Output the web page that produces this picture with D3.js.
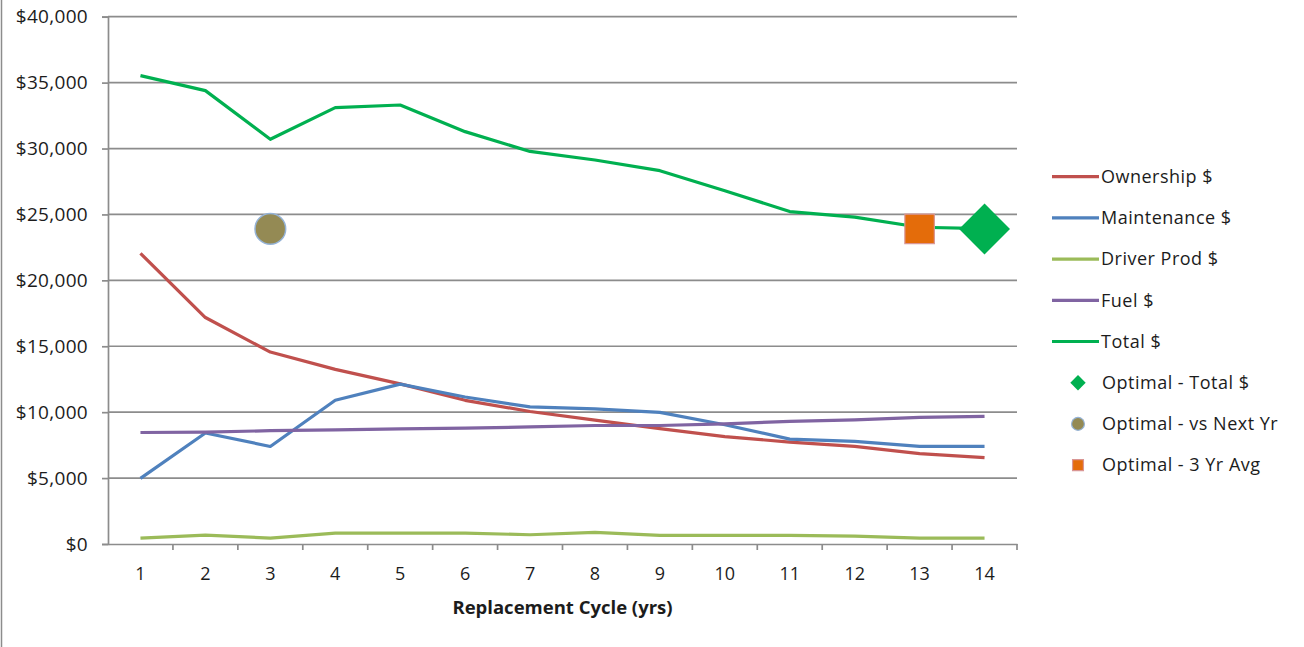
<!DOCTYPE html>
<html>
<head>
<meta charset="utf-8">
<script src="https://cdn.jsdelivr.net/npm/d3@7"></script>
<style>
  body { margin: 0; background: #fff; }
  svg { display: block; }
  text { font-family: "Open Sans", "Liberation Sans", sans-serif; fill: #1c1c1c; }
</style>
</head>
<body>
<svg id="chart" width="1304" height="647"></svg>
<script>
// Replacement cycle (years) along the x axis
const cycles = [1, 2, 3, 4, 5, 6, 7, 8, 9, 10, 11, 12, 13, 14];

// Annual cost components per replacement cycle
const ownership   = [22050, 17180, 14560, 13250, 12150, 10900, 10050, 9400, 8750, 8150, 7730, 7400, 6850, 6550];
const maintenance = [4980, 8420, 7400, 10900, 12130, 11150, 10400, 10250, 9980, 9050, 7960, 7780, 7400, 7400];
const driverProd  = [450, 680, 450, 830, 830, 830, 700, 880, 650, 650, 650, 600, 450, 450];
const fuel        = [8460, 8480, 8600, 8650, 8730, 8790, 8880, 8990, 8990, 9120, 9300, 9420, 9600, 9680];
const total       = [35530, 34390, 30700, 33100, 33300, 31280, 29780, 29130, 28320, 26800, 25220, 24790, 24030, 23930];

// Optimal points: [cycle, value]
const optimalTotal    = [[14, 23900]];
const optimalNextYear = [[3, 23900]];
const optimal3YrAvg   = [[13, 23900]];

// Y axis ticks
const yTicks = [0, 5000, 10000, 15000, 20000, 25000, 30000, 35000, 40000];

const lineSeries = [
  { name: "Ownership $",   values: ownership,   color: "#C0504D" },
  { name: "Maintenance $", values: maintenance, color: "#4F81BD" },
  { name: "Driver Prod $", values: driverProd,  color: "#9BBB59" },
  { name: "Fuel $",        values: fuel,        color: "#8064A2" },
  { name: "Total $",       values: total,       color: "#00B050" }
];

const svg = d3.select("#chart");
const plot = { left: 108, right: 1017, top: 16.7, bottom: 544 };

const x = d3.scaleBand().domain(cycles).range([plot.left, plot.right]).padding(0);
const xc = d => x(d) + x.bandwidth() / 2;
const y = d3.scaleLinear().domain([0, 40000]).range([plot.bottom, plot.top]);

// Left frame edge
svg.append("line")
  .attr("x1", 1.5).attr("x2", 1.5).attr("y1", 0).attr("y2", 647)
  .attr("stroke", "#8c8c8c").attr("stroke-width", 1.5);

// Horizontal gridlines
svg.append("g").selectAll("line").data(yTicks.filter(t => t > 0)).join("line")
  .attr("x1", plot.left).attr("x2", plot.right)
  .attr("y1", d => y(d)).attr("y2", d => y(d))
  .attr("stroke", "#8c8c8c").attr("stroke-width", 1.7);

// Y axis
const yAxis = svg.append("g").attr("transform", `translate(${plot.left},0)`)
  .call(d3.axisLeft(y).tickValues(yTicks).tickSize(6).tickPadding(14)
    .tickFormat(d => "$" + d3.format(",")(d)));
yAxis.select(".domain").attr("stroke", "#8c8c8c").attr("stroke-width", 1.7);
yAxis.selectAll(".tick line").attr("stroke", "#8c8c8c").attr("stroke-width", 1.7);
yAxis.selectAll("text").attr("font-size", 19).attr("fill", "#1c1c1c")
  .attr("letter-spacing", 0.3)
  .style("font-family", "'Open Sans', sans-serif");

// X axis: labels centred in each band, ticks on band boundaries
const xAxis = svg.append("g").attr("transform", `translate(0,${plot.bottom})`)
  .call(d3.axisBottom(x).tickSize(0).tickPadding(23));
xAxis.select(".domain").attr("stroke", "#8c8c8c").attr("stroke-width", 1.7);
xAxis.selectAll("text").attr("font-size", 18).attr("fill", "#1c1c1c")
  .style("font-family", "'Open Sans', sans-serif");
svg.append("g").selectAll("line").data(cycles).join("line")
  .attr("x1", d => x(d) + x.bandwidth()).attr("x2", d => x(d) + x.bandwidth())
  .attr("y1", plot.bottom).attr("y2", plot.bottom + 6)
  .attr("stroke", "#8c8c8c").attr("stroke-width", 1.7);

// X axis title
svg.append("text")
  .attr("x", (plot.left + plot.right) / 2).attr("y", 614)
  .attr("text-anchor", "middle").attr("font-size", 18.5).attr("font-weight", "bold")
  .text("Replacement Cycle (yrs)");

// Cost lines
const line = d3.line().x((d, i) => xc(cycles[i])).y(d => y(d));
svg.append("g").selectAll("path").data(lineSeries).join("path")
  .attr("d", s => line(s.values))
  .attr("fill", "none").attr("stroke", s => s.color)
  .attr("stroke-width", 3.2).attr("stroke-linejoin", "round");

// Optimal markers
const diamond = d3.symbol(d3.symbolSquare, 1300);
svg.append("g").selectAll("path").data(optimalTotal).join("path")
  .attr("d", diamond)
  .attr("transform", d => `translate(${xc(d[0])},${y(d[1])}) rotate(45)`)
  .attr("fill", "#00B050");

svg.append("g").selectAll("path").data(optimalNextYear).join("path")
  .attr("d", d3.symbol(d3.symbolCircle, 740))
  .attr("transform", d => `translate(${xc(d[0])},${y(d[1])})`)
  .attr("fill", "#948A54").attr("stroke", "#95B3D7").attr("stroke-width", 1.5);

svg.append("g").selectAll("path").data(optimal3YrAvg).join("path")
  .attr("d", d3.symbol(d3.symbolSquare, 870))
  .attr("transform", d => `translate(${xc(d[0])},${y(d[1])})`)
  .attr("fill", "#E46C0A").attr("stroke", "#D99694").attr("stroke-width", 1.2);

// Legend
const legendY0 = 176.7, legendStep = 41.2;
const legend = svg.append("g");
lineSeries.forEach((s, i) => {
  const ly = legendY0 + i * legendStep;
  legend.append("line").attr("x1", 1052).attr("x2", 1099).attr("y1", ly).attr("y2", ly)
    .attr("stroke", s.color).attr("stroke-width", 3.2);
  legend.append("text").attr("x", 1101).attr("y", ly).attr("dy", "0.35em")
    .attr("font-size", 18).attr("letter-spacing", 0.5).text(s.name);
});
const markerLegend = [
  { name: "Optimal - Total $",     sym: d3.symbol(d3.symbolSquare, 118), rot: 45, fill: "#00B050", stroke: "none" },
  { name: "Optimal - vs Next Yr",  sym: d3.symbol(d3.symbolCircle, 130), rot: 0, fill: "#948A54", stroke: "#95B3D7" },
  { name: "Optimal - 3 Yr Avg",    sym: d3.symbol(d3.symbolSquare, 118), rot: 0, fill: "#E46C0A", stroke: "#D99694" }
];
markerLegend.forEach((m, j) => {
  const ly = legendY0 + (lineSeries.length + j) * legendStep;
  legend.append("path").attr("d", m.sym)
    .attr("transform", `translate(1078,${ly}) rotate(${m.rot})`)
    .attr("fill", m.fill).attr("stroke", m.stroke).attr("stroke-width", 1.2);
  legend.append("text").attr("x", 1102).attr("y", ly).attr("dy", "0.35em")
    .attr("font-size", 18).attr("letter-spacing", 0.5).text(m.name);
});
</script>
</body>
</html>
